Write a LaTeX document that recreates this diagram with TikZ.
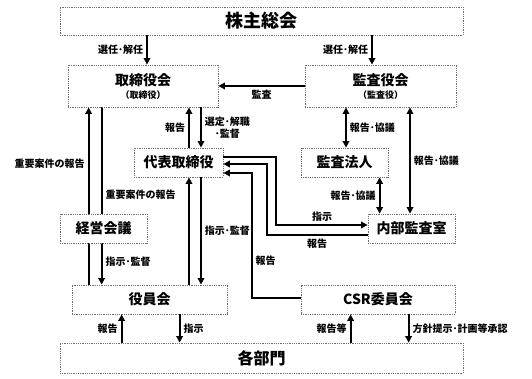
\documentclass[tikz,border=0pt]{standalone}
\usepackage{fontspec}
\setmainfont{Noto Sans CJK JP}
\usetikzlibrary{arrows.meta, positioning, calc, backgrounds}
\definecolor{bordergray}{RGB}{110,110,110}
\tikzset{
  box/.style={
    draw=bordergray,
    densely dotted,
    line width=0.8pt,
    fill=white,
    align=center,
    inner sep=0pt,
    font=\fontsize{14}{16}\selectfont\bfseries
  },
  widebox/.style={
    box,
    minimum width=403pt,
    font=\fontsize{18}{20}\selectfont\bfseries
  },
  arrow/.style={-{Triangle[length=6.5pt,width=6.5pt]}, line width=1.9pt},
  dblarrow/.style={{Triangle[length=6.5pt,width=6.5pt]}-{Triangle[length=6.5pt,width=6.5pt]}, line width=1.9pt},
  lbl/.style={font=\fontsize{10}{12}\selectfont\bfseries, inner sep=3pt}
}
\begin{document}
\begin{tikzpicture}[x=1pt, y=-1pt]
\useasboundingbox (0,0) rectangle (532,379);

\node[widebox, minimum height=28pt] (soukai) at (261.5,21) {株主総会};

\node[box, minimum width=150pt, minimum height=42pt] (tori) at (143,86)
{取締役会\\[-3pt]{\fontsize{9}{10}\selectfont（取締役）}};

\node[box, minimum width=151pt, minimum height=42pt] (kansa) at (380.5,86)
{監査役会\\[-3pt]{\fontsize{9}{10}\selectfont（監査役）}};

\node[box, minimum width=89pt, minimum height=29pt] (daihyo) at (178.5,162.5) {代表取締役};
\node[box, minimum width=87pt, minimum height=29pt] (houjin) at (344.5,162.5) {監査法人};
\node[box, minimum width=87pt, minimum height=29pt] (keiei) at (103.5,228.5) {経営会議};
\node[box, minimum width=87pt, minimum height=29pt] (naibu) at (411.5,228.5) {内部監査室};
\node[box, minimum width=155pt, minimum height=29pt] (yakuin) at (149.5,299.5) {役員会};
\node[box, minimum width=154pt, minimum height=29pt] (csr) at (378,299.5) {CSR委員会};
\node[widebox, minimum height=30pt, font=\fontsize{16}{18}\selectfont\bfseries] (bumon) at (261.5,358) {各部門};

% top level
\draw[arrow] ([xshift=4pt]tori.north |- soukai.south) -- node[lbl, left] (l-sennin1) {選任･解任} ([xshift=4pt]tori.north);
\draw[arrow] ([xshift=-8.5pt]kansa.north |- soukai.south) -- node[lbl, left] (l-sennin2) {選任･解任} ([xshift=-8.5pt]kansa.north);
\draw[arrow] (kansa.west) -- node[lbl, below] (l-kansa) {監査} (tori.east);

% long lines behind keiei
\begin{scope}[on background layer]
\draw[arrow] ([xshift=21pt]tori.south west |- yakuin.north) -- node[lbl, left, pos=0.685] (l-juyo1) {重要案件の報告} ([xshift=21pt]tori.south west);
\draw[arrow] ([xshift=34pt]tori.south west) -- node[lbl, right, pos=0.494] (l-juyo2) {重要案件の報告}
  node[lbl, right, pos=0.87] (l-shiji1) {指示･監督} ([xshift=34pt]tori.south west |- yakuin.north);
\end{scope}

% daihyo
\draw[arrow] ([xshift=10.5pt]daihyo.north) -- node[lbl, left] (l-houkoku1) {報告} ([xshift=10.5pt]daihyo.north |- tori.south);
\draw[arrow] ([xshift=22.5pt]daihyo.north |- tori.south) -- node[lbl, right, align=center] (l-sentei) {選定･解職\\･監督} ([xshift=22.5pt]daihyo.north);
\draw[arrow] ([xshift=10.5pt]daihyo.south |- yakuin.north) -- ([xshift=10.5pt]daihyo.south);
\draw[arrow] ([xshift=22.5pt]daihyo.south) -- node[lbl, right] (l-shiji2) {指示･監督} ([xshift=22.5pt]daihyo.south |- yakuin.north);

% internal audit
\draw[arrow] ([yshift=5.5pt]daihyo.east) -- ++(53,0) |- node[lbl, pos=0.75, above] (l-shiji3) {指示} ([yshift=3.5pt]naibu.west);
\draw[arrow] ([yshift=-6.5pt]naibu.west) -- node[lbl, below] (l-houkoku2) {報告} ++(-101,0) |- ([yshift=-1.5pt]daihyo.east);
\draw[arrow] ([yshift=1.5pt]csr.west) -- ++(-49,0) |- node[lbl, pos=0.15, right] (l-houkoku3) {報告} ([yshift=-10.5pt]daihyo.east);

% auditors
\draw[dblarrow] ([xshift=1.5pt]houjin.north) -- node[lbl, right] (l-kyogi1) {報告･協議} ([xshift=1.5pt]houjin.north |- kansa.south);
\draw[dblarrow] ([xshift=12pt]naibu.north west) -- node[lbl, left] (l-kyogi2) {報告･協議} ([xshift=12pt]naibu.north west |- houjin.south);
\draw[dblarrow] ([xshift=-1.5pt]naibu.north) -- node[lbl, right] (l-kyogi3) {報告･協議} ([xshift=-1.5pt]naibu.north |- kansa.south);

% departments
\draw[arrow] ([xshift=50pt]yakuin.south west |- bumon.north) -- node[lbl, left] (l-houkoku4) {報告} ([xshift=50pt]yakuin.south west);
\draw[arrow] ([xshift=108pt]yakuin.south west) -- node[lbl, right] (l-shiji4) {指示} ([xshift=108pt]yakuin.south west |- bumon.north);
\draw[arrow] ([xshift=50pt]csr.south west |- bumon.north) -- node[lbl, left] (l-houkoku5) {報告等} ([xshift=50pt]csr.south west);
\draw[arrow] ([xshift=108pt]csr.south west) -- node[lbl, right] (l-houshin) {方針提示･計画等承認} ([xshift=108pt]csr.south west |- bumon.north);
\end{tikzpicture}
\end{document}
